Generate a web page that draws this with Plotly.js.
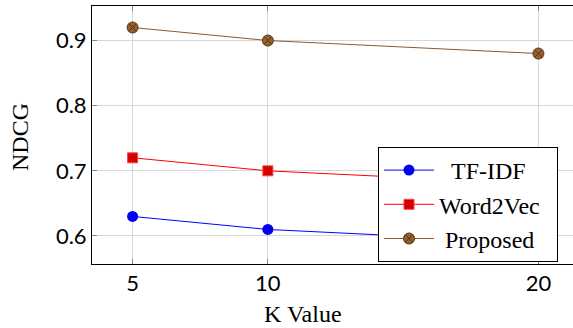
<!DOCTYPE html>
<html>
<head>
<meta charset="utf-8">
<script src="https://cdn.plot.ly/plotly-3.0.1.min.js"></script>
<style>
html,body{margin:0;padding:0;overflow:hidden;background:#fff;}
#chart{width:579px;height:328px;}
</style>
</head>
<body>
<div id="chart"></div>
<script>
const kValues = [5, 10, 20];
const tfidf = [0.63, 0.61, 0.59];
const word2vec = [0.72, 0.70, 0.68];
const proposed = [0.92, 0.90, 0.88];
const seriesNames = ["TF-IDF", "Word2Vec", "Proposed"];
const xTicks = [5, 10, 20];
const yTicks = [0.6, 0.7, 0.8, 0.9];
const yTickText = ["0.6", "0.7", "0.8", "0.9"];

const SERIF = "Liberation Serif";
const SANS = "Lato";
const NB = "\u00A0";
// padding so the legend text sits centred in its box, as in the reference
const legendLabels = [NB + NB + seriesNames[0], seriesNames[1] + NB + NB, NB + seriesNames[2]];

const traces = [
  {x: kValues, y: tfidf, name: legendLabels[0], type: "scatter", mode: "lines+markers",
   line: {color: "#0000ff", width: 1},
   marker: {symbol: "circle", size: 11, color: "#0000ee", line: {width: 0}}},
  {x: kValues, y: word2vec, name: legendLabels[1], type: "scatter", mode: "lines+markers",
   line: {color: "#ff0000", width: 1},
   marker: {symbol: "square", size: 10, color: "#d40000", line: {width: 1, color: "#ff4040"}}},
  {x: kValues, y: proposed, name: legendLabels[2], type: "scatter", mode: "lines+markers",
   line: {color: "#8c5a2b", width: 1},
   marker: {symbol: "circle-x", size: 11, color: "#94602f", line: {width: 1, color: "#5a3513"}}}
];

const W = 579, H = 328, ml = 92, mt = 6, mb = 64, mr = 0;
const pw = W - ml - mr, ph = H - mt - mb;
const px = v => (v - ml) / pw;
const py = v => (H - mb - v) / ph;

const layout = {
  width: W, height: H,
  margin: {l: ml, r: mr, t: mt, b: mb, pad: 0},
  paper_bgcolor: "#fff", plot_bgcolor: "#fff",
  showlegend: true,
  font: {family: SANS, color: "#000"},
  xaxis: {
    range: [3.5, 21.5], tickvals: xTicks, ticktext: xTicks.map(String),
    showgrid: true, gridcolor: "#d6d6d6", gridwidth: 1, zeroline: false,
    showline: true, linecolor: "#000", linewidth: 1, mirror: "ticks",
    ticks: "inside", ticklen: 5, tickcolor: "#888", tickwidth: 1,
    tickfont: {family: SANS, size: 22, color: "#000"}
  },
  yaxis: {
    range: [0.557, 0.953], tickvals: yTicks, ticktext: yTickText,
    showgrid: true, gridcolor: "#d6d6d6", gridwidth: 1, zeroline: false,
    showline: true, linecolor: "#000", linewidth: 1, mirror: "ticks",
    ticks: "inside", ticklen: 5, tickcolor: "#888", tickwidth: 1,
    tickfont: {family: SANS, size: 22, color: "#000"}
  },
  legend: {
    x: px(378), y: py(147), xanchor: "left", yanchor: "top",
    bgcolor: "#fff", bordercolor: "#000", borderwidth: 1,
    font: {family: SERIF, size: 24, color: "#000"},
    itemwidth: 50, tracegroupgap: 0
  },
  annotations: [
    {text: "K Value", xref: "paper", yref: "paper", x: px(303), y: py(314),
     xanchor: "center", yanchor: "middle", showarrow: false,
     font: {family: SERIF, size: 24, color: "#000"}},
    {text: "NDCG", xref: "paper", yref: "paper", x: px(20), y: py(137),
     xanchor: "center", yanchor: "middle", showarrow: false, textangle: -90,
     font: {family: SERIF, size: 24, color: "#000"}}
  ]
};

Plotly.newPlot("chart", traces, layout, {displayModeBar: false, staticPlot: true});
</script>
</body>
</html>
